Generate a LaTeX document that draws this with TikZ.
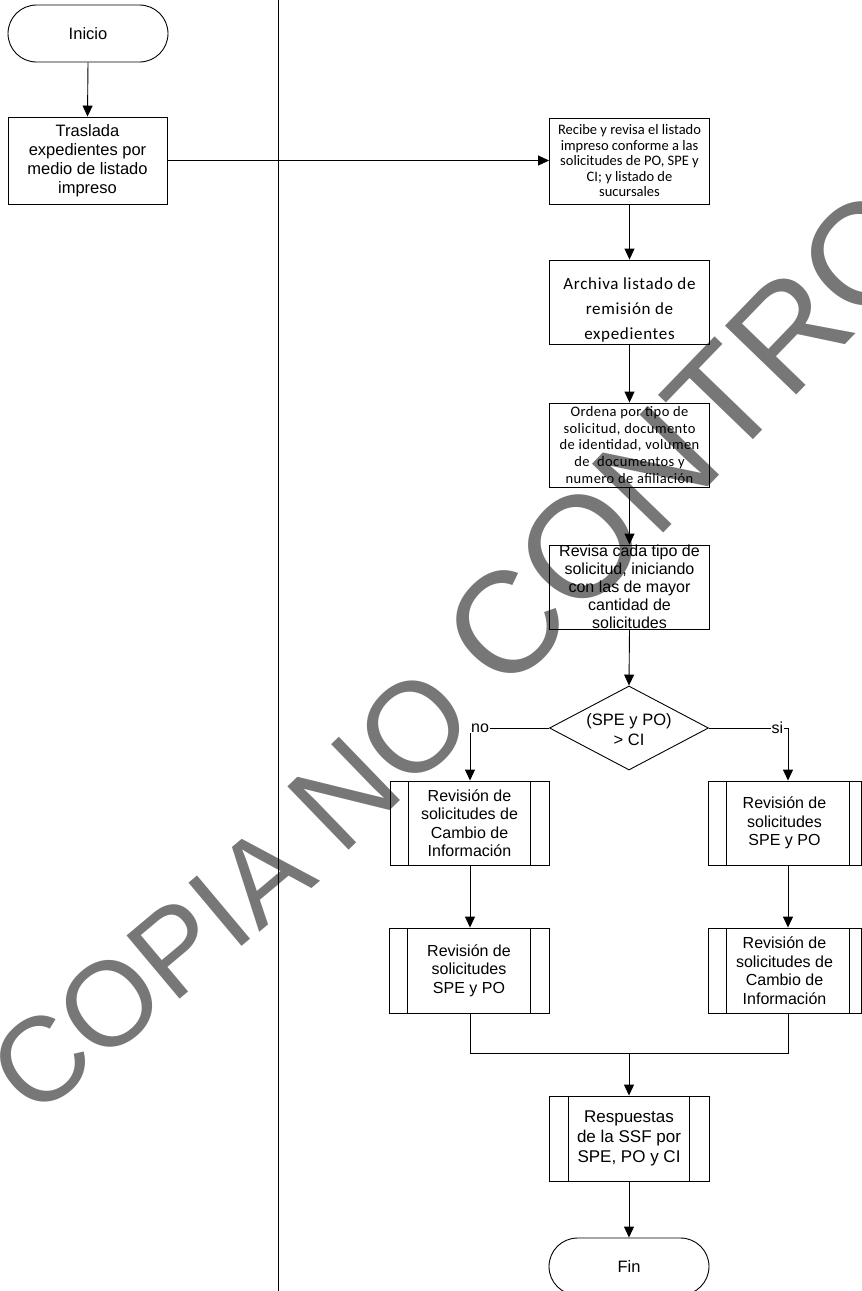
\documentclass[tikz,border=0pt]{standalone}
\usepackage{fontspec}
\setmainfont{Liberation Sans}
\newfontfamily\calibri{Carlito}
\usetikzlibrary{arrows.meta,shapes.geometric,shapes.misc}
\definecolor{wmgray}{HTML}{777777}
\begin{document}
\begin{tikzpicture}[x=1pt,y=-1pt,line width=0.9pt,
  >={Triangle[length=11pt,width=10pt]},
  box/.style={draw, rectangle, minimum width=160pt, minimum height=84pt, inner sep=0pt, align=center, font=\fontsize{16}{18.5}\selectfont},
  cbox/.style={box, font=\calibri\fontsize{14.5}{15.5}\selectfont},
  proc/.style={box},
  term/.style={draw, rounded rectangle, minimum width=160pt, minimum height=57pt, inner sep=0pt, font=\fontsize{16.5}{19}\selectfont},
  lbl/.style={fill=white, inner sep=1pt, font=\fontsize{16}{18}\selectfont},
  wmark/.style={anchor=base west, inner sep=0pt, text=wmgray}]
\useasboundingbox (0,0) rectangle (862,1291);
\clip (0,0) rectangle (862,1291);
% watermark (grows in size along its line)
\node[wmark, rotate=40, font=\fontsize{120}{120}\selectfont] (wm1) at (34,1121) {COPIA};
\node[wmark, rotate=44, font=\fontsize{128}{128}\selectfont] (wm2) at (341.6,858) {NO};
\node[wmark, rotate=46, font=\fontsize{144}{144}\selectfont] (wm3) at (505,697) {CONTROLADA};
% swimlane divider
\draw (278,0) -- (278,1291);
% nodes
\node[term] (inicio) at (88,33.5) {Inicio};
\node[box, minimum width=159pt, minimum height=87pt, font=\fontsize{16.5}{19}\selectfont] (tras) at (87.5,160.5) {Traslada\\expedientes por\\medio de listado\\impreso};
\node[cbox, minimum height=86pt] (recibe) at (629.5,161) {Recibe y revisa el listado\\impreso conforme a las\\solicitudes de PO, SPE y\\CI; y listado de\\sucursales};
\node[box, font=\calibri\addfontfeature{LetterSpace=4}\fontsize{17}{25}\selectfont] (archiva) at (629.5,302) {\rule{0pt}{28pt}Archiva listado de\\remisión de\\expedientes};
\node[box, font=\calibri\addfontfeature{LetterSpace=3}\fontsize{14.5}{16.7}\selectfont] (ordena) at (629.5,445) {Ordena por tipo de\\solicitud, documento\\de identidad, volumen\\de~ documentos y\\numero de afiliación};
\node[box, font=\fontsize{16}{18}\selectfont] (revisa) at (629.5,587) {Revisa cada tipo de\\solicitud, iniciando\\con las de mayor\\cantidad de\\solicitudes};
\node[draw, diamond, minimum width=159pt, minimum height=84pt, inner sep=0pt] (dec) at (629,728) {};
\node[align=center, inner sep=0pt, font=\fontsize{16.5}{20}\selectfont] (dectext) at (629,730) {(SPE y PO)\\> CI};
\node[proc, minimum width=159pt] (L1) at (469.5,823) {Revisión de\\solicitudes de\\Cambio de\\Información};
\node[proc, minimum width=153pt] (R1) at (784.5,823) {Revisión de\\solicitudes\\SPE y PO};
\node[proc, minimum width=160pt, minimum height=85pt] (L2) at (469,970.5) {Revisión de\\solicitudes\\SPE y PO};
\node[proc, minimum width=153pt, minimum height=85pt] (R2) at (784.5,970.5) {Revisión de\\solicitudes de\\Cambio de\\Información};
\node[proc, minimum height=85pt, font=\fontsize{17}{20}\selectfont] (resp) at (629,1138.5) {Respuestas\\de la SSF por\\SPE, PO y CI};
\node[term] (fin) at (629,1266.5) {Fin};
% predefined-process inner lines
\foreach \n/\a/\b in {L1/19/19, L2/19/19, R1/19/12, R2/19/12, resp/20/20}{
  \draw ([xshift=\a pt]\n.north west) -- ([xshift=\a pt]\n.south west);
  \draw ([xshift=-\b pt]\n.north east) -- ([xshift=-\b pt]\n.south east);
}
% connectors
\coordinate (cl) at (470,728);
\coordinate (cr) at (788,728);
\coordinate (m) at (629,1053);
\draw[->] (inicio.south) -- (tras.north);
\draw[->] (tras.east) -- (tras.east -| recibe.west);
\draw[->] (recibe.south) -- (archiva.north);
\draw[->] (archiva.south) -- (ordena.north);
\draw[->] (ordena.south) -- (revisa.north);
\draw[->] (revisa.south) -- (dec.north);
\draw[->] (dec.west) -- (cl) -- (cl |- L1.north);
\draw[->] (dec.east) -- (cr) -- (cr |- R1.north);
\node[lbl] (no) at (480,728) {no};
\node[lbl] (si) at (777.5,727.5) {si};
\draw[->] (cl |- L1.south) -- (cl |- L2.north);
\draw[->] (cr |- R1.south) -- (cr |- R2.north);
\draw (cl |- L2.south) -- (cl |- m) -- (cr |- m) -- (cr |- R2.south);
\draw[->] (m) -- (resp.north);
\draw[->] (resp.south) -- (fin.north);
\end{tikzpicture}
\end{document}
